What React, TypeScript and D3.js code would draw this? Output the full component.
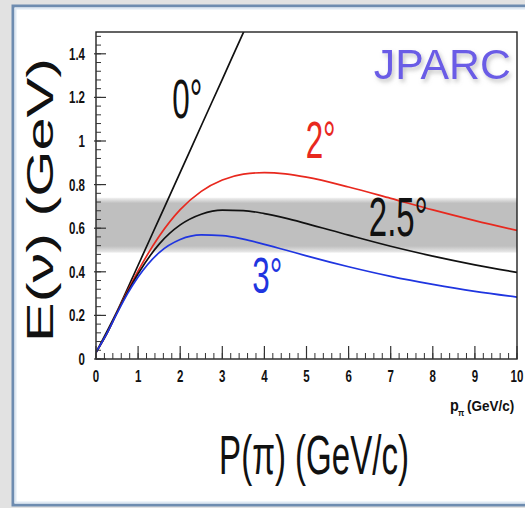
import React from "react";
import * as d3 from "d3";

// ---- data ----
const momentum = [0, 0.25, 0.5, 0.75, 1, 1.5, 2, 2.5, 3, 3.5, 4, 4.5, 5, 6, 7, 8, 9, 10];
const energy2deg = [0.03, 0.114, 0.214, 0.312, 0.404, 0.563, 0.685, 0.769, 0.821, 0.848, 0.855, 0.849, 0.834, 0.789, 0.737, 0.684, 0.635, 0.59];
const energy25deg = [0.03, 0.114, 0.213, 0.307, 0.391, 0.527, 0.615, 0.664, 0.683, 0.681, 0.667, 0.646, 0.621, 0.568, 0.517, 0.472, 0.432, 0.397];
const energy3deg = [0.03, 0.114, 0.21, 0.3, 0.376, 0.488, 0.548, 0.569, 0.566, 0.55, 0.526, 0.5, 0.473, 0.423, 0.379, 0.342, 0.31, 0.284];
const momentum0deg = [0, 0.5, 1, 1.5, 2, 2.5, 3, 3.5, 3.6];
const energy0deg = [0.03, 0.218, 0.43, 0.643, 0.856, 1.07, 1.283, 1.497, 1.539];
const bandRange = [0.508, 0.72];
const xTicks = [0, 1, 2, 3, 4, 5, 6, 7, 8, 9, 10];
const yTicks = [0, 0.2, 0.4, 0.6, 0.8, 1, 1.2, 1.4];
const yTickLabels = ["0", "0.2", "0.4", "0.6", "0.8", "1", "1.2", "1.4"];

const curves = [
  { name: "0°", xs: momentum0deg, ys: energy0deg, color: "#111111", label: { p: 1.81, e: 1.107, size: 56, len: 30 } },
  { name: "2°", xs: momentum, ys: energy2deg, color: "#e8281e", label: { p: 4.98, e: 0.92, size: 52, len: 30 } },
  { name: "2.5°", xs: momentum, ys: energy25deg, color: "#111111", label: { p: 6.48, e: 0.563, size: 55, len: 59 } },
  { name: "3°", xs: momentum, ys: energy3deg, color: "#1f35e0", label: { p: 3.71, e: 0.302, size: 50, len: 30 } },
];

const W = 525;
const H = 508;
const plot = { left: 96, right: 517, top: 32, bottom: 359 };

export default function App() {
  const x = d3.scaleLinear().domain([0, 10]).range([plot.left, plot.right]);
  const y = d3.scaleLinear().domain([0, 1.5]).range([plot.bottom, plot.top]);
  const line = d3
    .line<[number, number]>()
    .x((d) => x(d[0]))
    .y((d) => y(d[1]))
    .curve(d3.curveMonotoneX);

  const xMinor = d3.range(0, 10.001, 0.2);
  const yMinor = d3.range(0, 1.5001, 0.04);
  const sans = "'Liberation Sans', Arial, Helvetica, sans-serif";
  const tickScale = 0.72;

  return (
    <svg
      width={W}
      height={H}
      style={{ position: "absolute", left: 0, top: 0, display: "block" }}
    >
      <defs>
        <clipPath id="plotclip">
          <rect x={plot.left} y={plot.top} width={plot.right - plot.left} height={plot.bottom - plot.top} />
        </clipPath>
        <linearGradient id="bandgrad" x1="0" y1="0" x2="0" y2="1">
          <stop offset="0" stopColor="#f2f2f2" />
          <stop offset="0.1" stopColor="#bfbfbf" />
          <stop offset="0.88" stopColor="#bfbfbf" />
          <stop offset="1" stopColor="#ececec" />
        </linearGradient>
        <filter id="glow" x="-20%" y="-30%" width="140%" height="170%">
          <feDropShadow dx="2" dy="3" stdDeviation="2" floodColor="#888888" floodOpacity="0.5" />
        </filter>
      </defs>

      {/* outer page */}
      <rect x={0} y={0} width={W} height={H} fill="#e2e2e2" />
      <rect x={13} y={6} width={620} height={499} fill="#ffffff" stroke="#6e8cb0" strokeWidth={3} />
      <rect x={15.5} y={8.5} width={620} height={494} fill="none" stroke="#dfe9f3" strokeWidth={2} />

      {/* band */}
      <rect
        x={plot.left}
        y={y(bandRange[1] + 0.02)}
        width={plot.right - plot.left}
        height={y(bandRange[0] - 0.02) - y(bandRange[1] + 0.02)}
        fill="url(#bandgrad)"
      />

      {/* curves */}
      <g clipPath="url(#plotclip)">
        {curves.map((c) => (
          <path
            key={c.name}
            d={line(c.xs.map((v, i) => [v, c.ys[i]] as [number, number])) || ""}
            fill="none"
            stroke={c.color}
            strokeWidth={1.7}
          />
        ))}
      </g>

      {/* frame */}
      <rect
        x={plot.left}
        y={plot.top}
        width={plot.right - plot.left}
        height={plot.bottom - plot.top}
        fill="none"
        stroke="#222"
        strokeWidth={1.4}
      />

      {/* x ticks */}
      {xMinor.map((v, i) => (
        <line key={"xm" + i} x1={x(v)} x2={x(v)} y1={plot.bottom} y2={plot.bottom - 6} stroke="#333" strokeWidth={1} />
      ))}
      {xTicks.map((v) => (
        <line key={"xM" + v} x1={x(v)} x2={x(v)} y1={plot.bottom} y2={plot.bottom - 13} stroke="#333" strokeWidth={1.2} />
      ))}
      {xTicks.map((v) => (
        <text
          key={"xl" + v}
          transform={`translate(${x(v)}, ${plot.bottom + 23}) scale(${tickScale}, 1)`}
          textAnchor="middle"
          fontFamily={sans}
          fontWeight="bold"
          fontSize={16}
          fill="#111"
        >
          {v}
        </text>
      ))}

      {/* y ticks */}
      {yMinor.map((v, i) => (
        <line key={"ym" + i} x1={plot.left} x2={plot.left + 5} y1={y(v)} y2={y(v)} stroke="#333" strokeWidth={1} />
      ))}
      {yTicks.map((v) => (
        <line key={"yM" + v} x1={plot.left - 2} x2={plot.left + 10} y1={y(v)} y2={y(v)} stroke="#333" strokeWidth={1.2} />
      ))}
      {yTicks.map((v, i) => (
        <text
          key={"yl" + v}
          transform={`translate(${plot.left - 11}, ${y(v) + 6}) scale(${tickScale}, 1)`}
          textAnchor="end"
          fontFamily={sans}
          fontWeight="bold"
          fontSize={16}
          fill="#111"
        >
          {yTickLabels[i]}
        </text>
      ))}

      {/* small axis title */}
      <g transform="translate(450, 411) scale(0.9, 1)">
        <text x={0} y={0} fontFamily={sans} fontWeight="bold" fontSize={16} fill="#111">
          p
        </text>
        <text x={9} y={5} fontFamily={sans} fontWeight="bold" fontSize={9} fill="#111">
          π
        </text>
        <text x={19} y={0} fontFamily={sans} fontWeight="bold" fontSize={15} fill="#111">
          (GeV/c)
        </text>
      </g>

      {/* curve labels */}
      {curves.map((c) => (
        <text
          key={"lab" + c.name}
          x={x(c.label.p)}
          y={y(c.label.e)}
          fontFamily={sans}
          fontSize={c.label.size}
          fill={c.color}
          textLength={c.label.len}
          lengthAdjust="spacingAndGlyphs"
        >
          {c.name}
        </text>
      ))}

      {/* JPARC */}
      <text
        x={x(6.6)}
        y={y(1.285)}
        fontFamily={sans}
        fontSize={43}
        fill="#6b5be6"
        textLength={137}
        lengthAdjust="spacingAndGlyphs"
        filter="url(#glow)"
      >
        JPARC
      </text>

      {/* big axis titles */}
      <text
        transform={`translate(53, 200) rotate(-90)`}
        textAnchor="middle"
        fontFamily={sans}
        fontSize={37}
        fill="#111"
        textLength={284}
        lengthAdjust="spacingAndGlyphs"
      >
        E(ν) (GeV)
      </text>
      <text
        transform="translate(314, 474) scale(0.59, 1)"
        textAnchor="middle"
        fontFamily={sans}
        fontSize={56}
        fill="#111"
      >
        P(π) (GeV/c)
      </text>
    </svg>
  );
}
